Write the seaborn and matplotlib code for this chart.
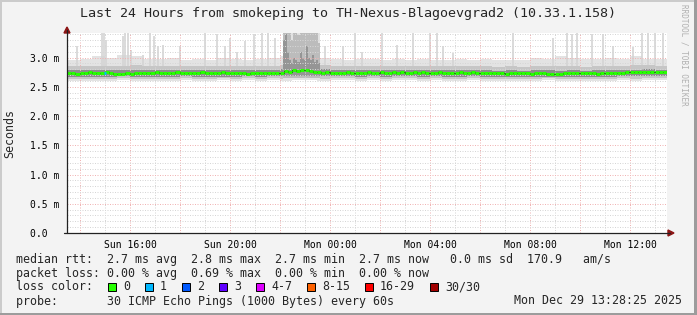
import numpy as np
import pandas as pd
import matplotlib
matplotlib.use("Agg")
import matplotlib.pyplot as plt
import seaborn as sns
from matplotlib.patches import Rectangle, Polygon
from matplotlib.lines import Line2D

# ---------------- data ----------------
title = "Last 24 Hours from smokeping to TH-Nexus-Blagoevgrad2 (10.33.1.158)"
t_start_h = 13 + 28 / 60          # Sun 13:28, hours since Sun 00:00
t_end_h = t_start_h + 24

# median rtt (ms), one value per 10 minutes
median_step_min = 10
median_ms = [
    2.73, 2.74, 2.72, 2.74, 2.73, 2.75, 2.74, 2.73, 2.74, 2.75,
    2.73, 2.71, 2.71, 2.72, 2.73, 2.72, 2.74, 2.73, 2.74, 2.73,
    2.74, 2.75, 2.73, 2.74, 2.74, 2.73, 2.75, 2.74, 2.73, 2.74,
    2.74, 2.73, 2.75, 2.74, 2.74, 2.73, 2.74, 2.75, 2.74, 2.74,
    2.73, 2.74, 2.73, 2.72, 2.74, 2.73, 2.74, 2.74, 2.73, 2.74,
    2.73, 2.74, 2.77, 2.76, 2.78, 2.77, 2.78, 2.78, 2.77, 2.76,
    2.75, 2.74, 2.75, 2.74, 2.74, 2.73, 2.74, 2.75, 2.74, 2.73,
    2.74, 2.74, 2.75, 2.74, 2.74, 2.75, 2.74, 2.74, 2.75, 2.74,
    2.75, 2.74, 2.74, 2.75, 2.74, 2.75, 2.74, 2.73, 2.74, 2.75,
    2.74, 2.74, 2.73, 2.74, 2.75, 2.74, 2.74, 2.75, 2.74, 2.74,
    2.73, 2.73, 2.74, 2.73, 2.73, 2.72, 2.73, 2.73, 2.74, 2.73,
    2.73, 2.72, 2.73, 2.74, 2.73, 2.72, 2.71, 2.71, 2.72, 2.73,
    2.73, 2.74, 2.73, 2.73, 2.74, 2.73, 2.73, 2.72, 2.73, 2.73,
    2.73, 2.74, 2.73, 2.74, 2.75, 2.75, 2.76, 2.75, 2.75, 2.76,
    2.75, 2.75, 2.76, 2.75,
]

# smoke percentiles (ms), one value per 30 minutes
smoke_step_min = 30
smoke_min_ms = [2.60, 2.59, 2.60, 2.60, 2.61, 2.60, 2.59, 2.60, 2.60, 2.61, 2.60, 2.60,
                2.61, 2.60, 2.61, 2.60, 2.61, 2.60, 2.61, 2.61, 2.60, 2.61, 2.61, 2.60,
                2.61, 2.60, 2.61, 2.61, 2.60, 2.61, 2.60, 2.60, 2.61, 2.60, 2.60, 2.59,
                2.60, 2.60, 2.61, 2.60, 2.60, 2.59, 2.60, 2.60, 2.61, 2.60, 2.61, 2.61]
smoke_q10_ms = [2.64, 2.63, 2.64, 2.64, 2.65, 2.64, 2.63, 2.64, 2.64, 2.65, 2.64, 2.64,
                2.65, 2.64, 2.65, 2.64, 2.65, 2.64, 2.65, 2.65, 2.64, 2.65, 2.65, 2.64,
                2.65, 2.64, 2.65, 2.65, 2.64, 2.65, 2.64, 2.64, 2.65, 2.64, 2.64, 2.63,
                2.64, 2.64, 2.65, 2.64, 2.64, 2.63, 2.64, 2.64, 2.65, 2.64, 2.65, 2.65]
smoke_q25_ms = [2.67, 2.66, 2.67, 2.67, 2.68, 2.67, 2.66, 2.67, 2.67, 2.68, 2.67, 2.66,
                2.67, 2.67, 2.68, 2.67, 2.68, 2.68, 2.69, 2.69, 2.68, 2.68, 2.68, 2.67,
                2.68, 2.67, 2.68, 2.68, 2.67, 2.68, 2.67, 2.67, 2.68, 2.67, 2.67, 2.66,
                2.67, 2.66, 2.67, 2.67, 2.67, 2.66, 2.67, 2.67, 2.68, 2.68, 2.68, 2.68]
smoke_q75_ms = [2.78, 2.79, 2.78, 2.79, 2.78, 2.79, 2.78, 2.78, 2.79, 2.78, 2.79, 2.78,
                2.78, 2.79, 2.78, 2.78, 2.79, 2.80, 2.82, 2.82, 2.80, 2.79, 2.78, 2.79,
                2.78, 2.79, 2.78, 2.78, 2.79, 2.78, 2.78, 2.79, 2.78, 2.78, 2.77, 2.78,
                2.77, 2.78, 2.78, 2.77, 2.78, 2.77, 2.78, 2.78, 2.79, 2.79, 2.80, 2.79]
smoke_q90_ms = [2.85, 2.86, 2.86, 2.85, 2.86, 2.87, 2.85, 2.86, 2.86, 2.85, 2.86, 2.85,
                2.86, 2.86, 2.85, 2.86, 2.86, 2.88, 2.90, 2.90, 2.87, 2.86, 2.85, 2.86,
                2.86, 2.85, 2.86, 2.85, 2.86, 2.85, 2.86, 2.85, 2.86, 2.86, 2.84, 2.85,
                2.84, 2.85, 2.86, 2.85, 2.85, 2.84, 2.85, 2.86, 2.86, 2.87, 2.87, 2.86]
smoke_max_ms = [2.96, 2.98, 3.02, 3.00, 3.04, 3.02, 2.98, 2.97, 3.00, 2.96, 2.98, 2.96,
                2.99, 2.97, 2.96, 2.98, 3.00, 3.02, 3.05, 3.05, 3.00, 2.97, 2.96, 2.98,
                2.97, 2.96, 2.98, 2.96, 2.97, 2.96, 2.95, 2.97, 2.96, 2.98, 2.95, 2.96,
                2.95, 3.00, 2.98, 3.02, 3.00, 2.97, 2.98, 3.00, 2.98, 3.02, 2.98, 2.97]

# burst of high latency Sun ~22:06 - 23:36, one value per 5 minutes
burst_start_h = 22 + 6 / 60
burst_step_min = 5
burst_q75_ms = [3.30, 3.40, 3.10, 2.95, 2.90, 3.00, 2.95, 2.92, 3.10,
                3.00, 2.95, 3.20, 3.00, 2.95, 3.05, 2.92, 2.95, 2.90]
burst_q90_ms = [3.50, 3.50, 3.50, 3.42, 3.30, 3.50, 3.50, 3.38, 3.50,
                3.50, 3.50, 3.50, 3.50, 3.45, 3.50, 3.50, 3.50, 3.25]
burst_max_ms = 3.50

# isolated slow pings (time in hours since Sun 00:00, max rtt ms)
spike_h = [13.86, 14.87, 14.95, 15.03, 15.71, 15.79, 15.91, 16.03, 16.51, 16.79,
           16.95, 17.11, 17.31, 17.99, 18.99, 19.47, 19.79, 19.99, 20.27, 20.59,
           20.95, 21.27, 21.51, 21.79, 23.79, 24.51, 24.99, 25.27, 26.07, 26.67,
           27.31, 27.99, 28.27, 28.51, 28.91, 31.31, 32.91, 33.47, 33.67, 33.87,
           34.47, 34.91, 35.31, 36.11, 36.47, 36.71, 36.99, 37.31]
spike_top_ms = [3.20, 3.45, 3.45, 3.30, 3.36, 3.45, 3.45, 3.12, 3.05, 3.45,
                3.37, 3.20, 3.22, 3.20, 3.45, 3.40, 3.20, 3.34, 3.10, 3.28,
                3.40, 3.45, 3.45, 3.34, 3.20, 3.20, 3.45, 3.10, 3.45, 3.22,
                3.45, 3.45, 3.42, 3.20, 3.08, 3.45, 3.34, 3.45, 3.40, 3.45,
                3.40, 3.40, 3.20, 3.18, 3.45, 3.45, 3.45, 3.45]

# intervals with packet loss
loss_h = [14.96]
loss_count = [1]

xtick_h = [16, 20, 24, 28, 32, 36]
xtick_labels = ["Sun 16:00", "Sun 20:00", "Mon 00:00", "Mon 04:00", "Mon 08:00", "Mon 12:00"]
ytick_ms = [0.0, 0.5, 1.0, 1.5, 2.0, 2.5, 3.0]
ytick_labels = ["0.0  ", "0.5 m", "1.0 m", "1.5 m", "2.0 m", "2.5 m", "3.0 m"]

rtt_stats = ["2.7 ms avg", "2.8 ms max", "2.7 ms min", "2.7 ms now", " 0.0 ms sd", "170.9   am/s"]
loss_stats = ["0.00 % avg", "0.69 % max", "0.00 % min", "0.00 % now"]
loss_labels = ["0", "1", "2", "3", "4-7", "8-15", "16-29", "30/30"]
loss_colors = ["#26ff00", "#00b8ff", "#0059ff", "#5e00ff", "#dd00ff", "#fe6200", "#ff0000", "#a10000"]
probe_text = "30 ICMP Echo Pings (1000 Bytes) every 60s"
date_text = "Mon Dec 29 13:28:25 2025"

# ---------------- figure ----------------
sns.set_style("white")
plt.rcParams["font.family"] = ["DejaVu Sans Mono", "DejaVu Sans"]

W, H = 697, 315
fig = plt.figure(figsize=(W / 100, H / 100), dpi=100, facecolor="#f3f3f3")


def fx(x):
    return x / W


def fy(y):
    return 1 - y / H


ax = fig.add_axes([fx(67), fy(233), 600 / W, 200 / H])
ax.set_facecolor("white")
for s in ax.spines.values():
    s.set_visible(False)

c_env, c_mid, c_in = "#e3e3e3", "#c6c6c6", "#8c8c8c"

# smoke bands
n_b = len(smoke_min_ms)
tb = t_start_h + np.arange(n_b + 1) * smoke_step_min / 60


def ext(a):
    return list(a) + [a[-1]]


ax.fill_between(tb, ext(smoke_min_ms), ext(smoke_max_ms), step="post", color=c_env, lw=0, zorder=1.0)
ax.vlines(spike_h, 2.85, spike_top_ms, color="#d4d4d4", lw=1.2, zorder=1.1)
ax.fill_between(tb, ext(smoke_q10_ms), ext(smoke_q90_ms), step="post", color=c_mid, lw=0, zorder=1.2)
ax.fill_between(tb, ext(smoke_q25_ms), ext(smoke_q75_ms), step="post", color=c_in, lw=0, zorder=1.3)

# burst
n_u = len(burst_q75_ms)
tu = burst_start_h + np.arange(n_u + 1) * burst_step_min / 60
ax.fill_between(tu, 2.61, burst_max_ms, step="post", color=c_env, lw=0, zorder=1.4)
ax.fill_between(tu, 2.65, ext(burst_q90_ms), step="post", color="#bcbcbc", lw=0, zorder=1.5)
ax.fill_between(tu, 2.68, ext(burst_q75_ms), step="post", color="#959595", lw=0, zorder=1.6)

# median line
step_h = median_step_min / 60
tm = t_start_h + np.arange(len(median_ms)) * step_h
df = pd.DataFrame({"t": np.append(tm, t_end_h), "ms": ext(median_ms)})
sns.lineplot(data=df, x="t", y="ms", drawstyle="steps-post", color="#1a1a1a", lw=0.8,
             estimator=None, ax=ax, zorder=3)
ax.hlines(median_ms, tm, tm + step_h, color=loss_colors[0], lw=2.2, zorder=4)
for h, n in zip(loss_h, loss_count):
    i = int((h - t_start_h) / step_h)
    ax.hlines(median_ms[i], h - 0.03, h + 0.05, color=loss_colors[min(n, 3)], lw=2.2, zorder=5)

ax.set_xlim(t_start_h, t_end_h)
ax.set_ylim(0, 3.419)
ax.set_xlabel("")
ax.set_ylabel("")

# grid
ax.set_xticks(np.arange(14, 38, 2))
ax.set_xticks(np.arange(15, 38, 2), minor=True)
ax.set_xticklabels([xtick_labels[xtick_h.index(v)] if v in xtick_h else "" for v in np.arange(14, 38, 2)])
ax.set_yticks(ytick_ms)
ax.set_yticklabels(ytick_labels)
ax.set_yticks(np.arange(1, 35) / 10, minor=True)
ax.set_axisbelow(False)
ax.grid(which="major", color="#f0b4b4", ls=(0, (1, 1.5)), lw=0.72, snap=True)
ax.grid(which="minor", color="#d6d6d6", ls=(0, (1, 1.5)), lw=0.72, snap=True)
ax.tick_params(which="major", direction="inout", length=4, width=0.72, color="#333333",
               labelsize=7, pad=3.5, labelcolor="black")
ax.tick_params(which="minor", direction="inout", length=3, width=0.72, color="#333333")
ax.tick_params(axis="x", which="major", pad=3.0)
ax.tick_params(axis="x", which="minor", length=3)

# axis lines and arrows
axc = "#222222"
fig.add_artist(Line2D([fx(67), fx(67)], [fy(233), fy(30)], color=axc, lw=0.9))
fig.add_artist(Line2D([fx(64), fx(670)], [fy(233), fy(233)], color=axc, lw=0.9))
arc = "#8b1414"
fig.add_artist(Polygon([[fx(64), fy(33)], [fx(70), fy(33)], [fx(67), fy(27)]],
                       closed=True, color=arc, transform=fig.transFigure))
fig.add_artist(Polygon([[fx(668), fy(230)], [fx(668), fy(236)], [fx(674), fy(233)]],
                       closed=True, color=arc, transform=fig.transFigure))

# frame shading
fig.add_artist(Rectangle((0, 0), fx(2), 1, transform=fig.transFigure, color="#cbcbcb", lw=0))
fig.add_artist(Rectangle((0, fy(2)), 1, 2 / H, transform=fig.transFigure, color="#cbcbcb", lw=0))
fig.add_artist(Rectangle((fx(694), 0), 3 / W, 1, transform=fig.transFigure, color="#9c9c9c", lw=0))
fig.add_artist(Rectangle((0, 0), 1, 2 / H, transform=fig.transFigure, color="#9c9c9c", lw=0))

# texts
fig.text(fx(348), fy(13), title, ha="center", va="center", fontsize=9.6)
fig.text(fx(684), fy(4), "RRDTOOL / TOBI OETIKER", rotation=270, ha="center", va="top",
         fontsize=5.5, color="#b0b0b0")
fig.text(fx(10), fy(133), "Seconds", rotation=90, ha="center", va="center", fontsize=8.4)

lfs = 8.4
rows_y = [259, 273, 287, 301]
fig.text(fx(16), fy(rows_y[0]), "median rtt:  " + "  ".join(rtt_stats), ha="left", va="center", fontsize=lfs)
fig.text(fx(16), fy(rows_y[1]), "packet loss: " + "  ".join(loss_stats), ha="left", va="center", fontsize=lfs)
fig.text(fx(16), fy(rows_y[2]), "loss color:", ha="left", va="center", fontsize=lfs)
bx = 108
for lab, col in zip(loss_labels, loss_colors):
    fig.add_artist(Rectangle((fx(bx), fy(rows_y[2] + 4)), 8 / W, 8 / H, transform=fig.transFigure,
                             fc=col, ec="black", lw=0.7))
    fig.text(fx(bx + 15), fy(rows_y[2]), lab, ha="left", va="center", fontsize=lfs)
    bx += 30 + 7 * len(lab)
fig.text(fx(16), fy(rows_y[3]), "probe:       " + probe_text, ha="left", va="center", fontsize=lfs)
fig.text(fx(682), fy(rows_y[3]), date_text, ha="right", va="center", fontsize=lfs)

fig.savefig("out.png", dpi=100, facecolor=fig.get_facecolor())
